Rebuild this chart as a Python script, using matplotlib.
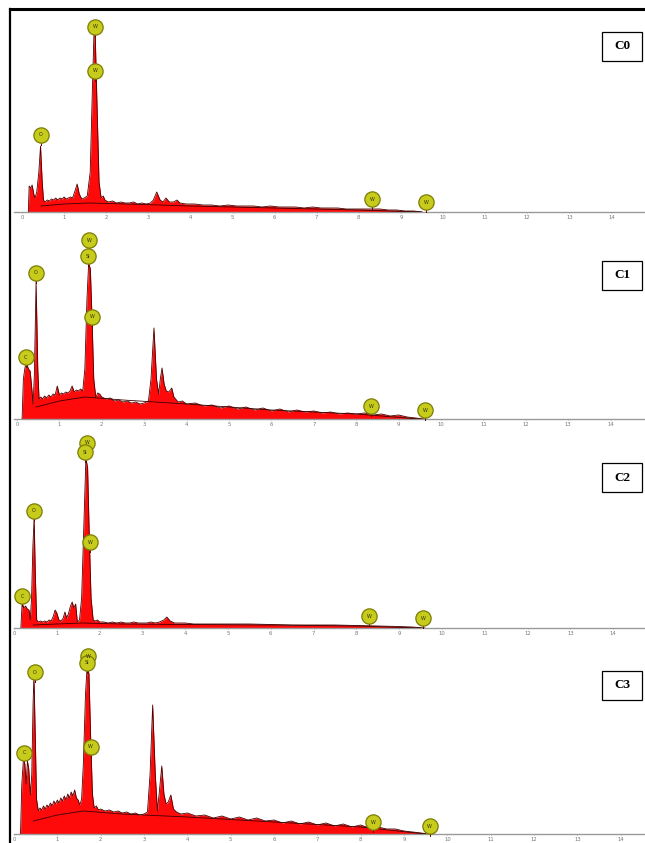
import matplotlib
matplotlib.use("Agg")
import matplotlib.pyplot as plt
from matplotlib.lines import Line2D
from matplotlib.patches import Rectangle

# ---------------- data (energy in keV, counts in arbitrary units) ----------------
panel_names = ["C0", "C1", "C2", "C3"]
tick_values = list(range(15))

c0_energy = [0.15, 0.17, 0.21, 0.24, 0.28, 0.31, 0.35, 0.40, 0.44, 0.48, 0.51, 0.55, 0.60, 0.65,
             0.70, 0.75, 0.80, 0.85, 0.90, 0.95, 1.00, 1.05, 1.10, 1.15, 1.20, 1.25, 1.31, 1.36,
             1.42, 1.48, 1.55, 1.62, 1.67, 1.71, 1.74, 1.78, 1.83, 1.88, 1.93, 1.97, 2.05, 2.15,
             2.25, 2.35, 2.45, 2.55, 2.65, 2.75, 2.85, 2.95, 3.05, 3.12, 3.20, 3.28, 3.35, 3.42,
             3.50, 3.60, 3.68, 3.75, 3.90, 4.10, 4.30, 4.50, 4.70, 4.90, 5.10, 5.30, 5.50, 5.70,
             5.90, 6.10, 6.30, 6.50, 6.70, 6.90, 7.10, 7.30, 7.50, 7.70, 7.90, 8.10, 8.30, 8.50,
             8.70, 8.90, 9.10, 9.30, 9.50]
c0_counts = [0, 26, 24, 27, 18, 14, 20, 40, 66, 30, 12, 10, 12, 11,
             13, 12, 14, 12, 14, 13, 15, 13, 14, 15, 14, 20, 28, 18,
             13, 14, 16, 40, 120, 180, 176, 110, 30, 14, 16, 12, 10, 11,
             9, 10, 9, 9, 10, 8, 9, 8, 9, 12, 20, 12, 10, 14,
             10, 10, 12, 9, 8, 8, 7, 7, 6, 7, 6, 6, 6, 5,
             6, 5, 5, 5, 4, 5, 4, 4, 4, 3, 3, 3, 3, 3,
             2, 2, 1, 1, 0]

c1_energy = [0.12, 0.15, 0.19, 0.23, 0.27, 0.31, 0.35, 0.38, 0.41, 0.45, 0.49, 0.52, 0.56, 0.60,
             0.65, 0.70, 0.75, 0.80, 0.85, 0.90, 0.95, 1.00, 1.05, 1.10, 1.15, 1.20, 1.25, 1.30,
             1.35, 1.40, 1.45, 1.50, 1.55, 1.60, 1.65, 1.69, 1.73, 1.77, 1.81, 1.86, 1.90, 1.95,
             2.00, 2.10, 2.20, 2.30, 2.40, 2.50, 2.60, 2.70, 2.80, 2.90, 3.00, 3.10, 3.16, 3.23,
             3.29, 3.34, 3.38, 3.42, 3.47, 3.52, 3.58, 3.65, 3.70, 3.80, 3.90, 4.00, 4.20, 4.40,
             4.60, 4.80, 5.00, 5.20, 5.40, 5.60, 5.80, 6.00, 6.20, 6.40, 6.60, 6.80, 7.00, 7.20,
             7.40, 7.60, 7.80, 8.00, 8.20, 8.40, 8.60, 8.80, 9.00, 9.20, 9.40, 9.60]
c1_counts = [0, 40, 52, 55, 50, 48, 30, 15, 45, 138, 50, 20, 22, 20,
             23, 21, 24, 22, 25, 24, 33, 24, 26, 25, 27, 26, 28, 33,
             27, 29, 28, 30, 28, 50, 120, 156, 150, 100, 40, 21, 26, 25,
             22, 20, 21, 18, 19, 17, 18, 16, 17, 15, 16, 18, 40, 91,
             40, 25, 40, 51, 35, 28, 27, 31, 22, 17, 18, 15, 16, 13,
             14, 11, 13, 10, 12, 9, 11, 8, 10, 7, 9, 7, 8, 6,
             7, 5, 6, 5, 6, 4, 5, 3, 4, 2, 1, 0]

c2_energy = [0.16, 0.19, 0.23, 0.27, 0.31, 0.35, 0.38, 0.41, 0.44, 0.47, 0.50, 0.53, 0.57, 0.62,
             0.67, 0.72, 0.77, 0.82, 0.87, 0.92, 0.96, 1.00, 1.05, 1.10, 1.15, 1.19, 1.23, 1.27,
             1.32, 1.36, 1.40, 1.44, 1.48, 1.53, 1.58, 1.63, 1.68, 1.72, 1.76, 1.80, 1.85, 1.90,
             1.95, 2.00, 2.10, 2.20, 2.30, 2.40, 2.50, 2.60, 2.70, 2.80, 2.90, 3.00, 3.10, 3.20,
             3.30, 3.40, 3.50, 3.57, 3.65, 3.75, 3.90, 4.00, 4.20, 4.50, 5.00, 5.50, 6.00, 6.50,
             7.00, 7.50, 8.00, 8.50, 9.00, 9.30, 9.60]
c2_counts = [0, 25, 20, 22, 19, 18, 8, 30, 80, 111, 50, 8, 6, 7,
             6, 7, 6, 8, 7, 12, 18, 15, 8, 7, 10, 16, 10, 14,
             22, 26, 20, 24, 6, 8, 30, 100, 170, 160, 90, 30, 8, 7,
             8, 6, 6, 5, 6, 5, 6, 5, 5, 6, 5, 5, 5, 6,
             5, 6, 8, 11, 7, 5, 5, 5, 4, 4, 4, 4, 3.5, 3,
             3, 3, 2.5, 2, 1.5, 1, 0]

c3_energy = [0.15, 0.18, 0.22, 0.25, 0.28, 0.31, 0.34, 0.38, 0.41, 0.44, 0.46, 0.49, 0.52, 0.56,
             0.60, 0.64, 0.68, 0.72, 0.76, 0.80, 0.84, 0.88, 0.92, 0.96, 1.00, 1.04, 1.08, 1.12,
             1.16, 1.20, 1.24, 1.28, 1.32, 1.36, 1.40, 1.44, 1.48, 1.52, 1.56, 1.60, 1.65, 1.69,
             1.73, 1.77, 1.81, 1.85, 1.90, 1.95, 2.00, 2.10, 2.20, 2.30, 2.40, 2.50, 2.60, 2.70,
             2.80, 2.90, 3.00, 3.08, 3.14, 3.20, 3.26, 3.31, 3.36, 3.41, 3.46, 3.51, 3.56, 3.62,
             3.68, 3.75, 3.85, 4.00, 4.20, 4.40, 4.60, 4.80, 5.00, 5.20, 5.40, 5.60, 5.80, 6.00,
             6.20, 6.40, 6.60, 6.80, 7.00, 7.20, 7.40, 7.60, 7.80, 8.00, 8.20, 8.40, 8.60, 8.80,
             9.00, 9.20, 9.40, 9.55]
c3_counts = [0, 50, 76, 70, 50, 73, 65, 39, 60, 130, 159, 100, 35, 23,
             26, 24, 28, 25, 29, 27, 31, 28, 33, 30, 34, 31, 36, 33,
             38, 34, 40, 36, 42, 38, 44, 36, 34, 29, 35, 70, 140, 169,
             160, 95, 40, 26, 28, 24, 25, 23, 24, 22, 23, 21, 22, 20,
             21, 19, 20, 22, 60, 129, 60, 23, 45, 68, 40, 30, 32, 39,
             25, 22, 20, 21, 18, 19, 16, 18, 15, 17, 14, 16, 13, 14,
             11, 13, 10, 12, 9, 11, 8, 10, 7, 9, 6, 7, 5, 5,
             3, 2, 1, 0]

# background (continuum) lines
bg_energy = [0.45, 1.0, 1.6, 2.5, 4.0, 6.0, 8.0, 9.5]
c0_bg = [6, 8, 9, 8, 6, 4, 2, 0]
c1_bg = [12, 18, 22, 19, 15, 9, 5, 0]
c2_bg = [3, 4, 5, 4, 3.5, 3, 2, 0]
c3_bg = [13, 19, 23, 20, 17, 12, 7, 0]

# element markers: (element, energy, label height)
c0_labels = [("W", 1.73, 185), ("W", 1.73, 141), ("O", 0.45, 77), ("W", 8.31, 13), ("W", 9.60, 10)]
c1_labels = [("W", 1.70, 179), ("Si", 1.67, 163), ("W", 1.77, 102), ("O", 0.45, 146),
             ("C", 0.21, 62), ("W", 8.35, 13), ("W", 9.62, 9)]
c2_labels = [("W", 1.71, 185), ("Si", 1.66, 176), ("W", 1.78, 86), ("O", 0.47, 117),
             ("C", 0.19, 32), ("W", 8.29, 12), ("W", 9.56, 10)]
c3_labels = [("W", 1.71, 178), ("Si", 1.68, 171), ("W", 1.77, 87), ("O", 0.48, 162),
             ("C", 0.23, 81), ("W", 8.29, 12), ("W", 9.59, 8)]

energies = [c0_energy, c1_energy, c2_energy, c3_energy]
counts = [c0_counts, c1_counts, c2_counts, c3_counts]
backgrounds = [c0_bg, c1_bg, c2_bg, c3_bg]
labels = [c0_labels, c1_labels, c2_labels, c3_labels]

# ---------------- layout (pixels) ----------------
W, H = 645, 843
layout = [  # top, baseline, x of 0 keV, px per keV, box centre y
    (12, 212, 22, 42.1, 46),
    (225, 419, 17, 42.4, 275),
    (432, 628, 14, 42.8, 478),
    (642, 834, 13, 43.4, 685),
]

fig = plt.figure(figsize=(W / 100, H / 100), dpi=100)
fig.patch.set_facecolor("white")

left_px, right_px = 14, 645
for i, (top, base, x0, sc, boxy) in enumerate(layout):
    ax = fig.add_axes([left_px / W, 1 - base / H, (right_px - left_px) / W, (base - top) / H])
    ax.set_xlim((left_px - x0) / sc, (right_px - x0) / sc)
    ax.set_ylim(0, base - top)
    ax.patch.set_alpha(0)
    for s in ("top", "right", "left"):
        ax.spines[s].set_visible(False)
    ax.spines["bottom"].set_color("#9a9a9a")
    ax.spines["bottom"].set_linewidth(1.0)
    ax.set_yticks([])
    ax.set_xticks(tick_values)
    ax.set_xticklabels([str(t) for t in tick_values])
    ax.tick_params(axis="x", length=1.0, width=0.5, colors="#8a8a8a", labelsize=3.8, pad=1.0,
                   labelcolor="#777777")

    ax.fill_between(energies[i], counts[i], 0, color="#ff0a0a", linewidth=0, zorder=2)
    ax.plot(energies[i], counts[i], color="#4a0000", linewidth=0.6, zorder=3)
    ax.plot(bg_energy, backgrounds[i], color="#3a0000", linewidth=0.6, zorder=3)

    for el, e, h in labels[i]:
        ax.plot([e, e], [h - 10, h], color="#6b0000", linewidth=0.7, zorder=4, clip_on=False)
        ax.plot([e], [h], marker="o", markersize=11, markerfacecolor="#c6cb1c",
                markeredgecolor="#7c7d05", markeredgewidth=0.9, zorder=5, clip_on=False)
        ax.text(e, h, el, fontsize=3.5, ha="center", va="center", color="#333300", zorder=6)

    # sample label box
    bw, bh = 40, 29
    bx = 602
    fig.add_artist(Rectangle((bx / W, 1 - (boxy + bh / 2) / H), bw / W, bh / H,
                             transform=fig.transFigure, facecolor="white",
                             edgecolor="black", linewidth=0.9))
    fig.text((bx + bw / 2) / W, 1 - boxy / H, panel_names[i], fontsize=9.5, fontweight="bold",
             family="Liberation Serif", ha="center", va="center")

# outer frame lines
fig.add_artist(Line2D([10 / W, 1], [1 - 9 / H, 1 - 9 / H], color="black", linewidth=2.2,
                      transform=fig.transFigure))
fig.add_artist(Line2D([10 / W, 10 / W], [0, 1 - 9 / H], color="black", linewidth=1.6,
                      transform=fig.transFigure))

fig.savefig("out.png", dpi=100, facecolor="white")
